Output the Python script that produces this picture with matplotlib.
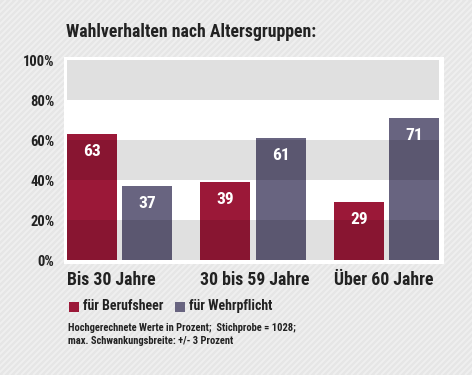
import matplotlib
matplotlib.use('Agg')
import matplotlib.pyplot as plt
from matplotlib.patches import Rectangle

# Daten
gruppen = ['Bis 30 Jahre', '30 bis 59 Jahre', 'Über 60 Jahre']
berufsheer = [63, 39, 29]
wehrpflicht = [37, 61, 71]
yticks = [0, 20, 40, 60, 80, 100]

RED = '#9b1838'
PURPLE = '#686480'
TXT = '#222222'

plt.rcParams['font.family'] = ['Roboto Condensed', 'DejaVu Sans']

W, H = 472, 375
fig = plt.figure(figsize=(W / 100, H / 100), dpi=100)
fig.patch.set_facecolor('#e6e6e6')

# gestreifter Hintergrund
bg = fig.add_axes([0, 0, 1, 1], zorder=-1)
bg.set_xlim(0, W)
bg.set_ylim(0, H)
bg.axis('off')
for c in range(-H, W + 10, 6):
    bg.plot([c, c + H], [0, H], color='#efefef', lw=1.4, solid_capstyle='butt')
# weisses Panel
bg.add_patch(Rectangle((64, H - 264), 380, 207, facecolor='white',
                       edgecolor='none', zorder=5))

ax = fig.add_axes([67 / W, (H - 260) / H, 372 / W, 200 / H])
ax.set_facecolor('white')
ax.set_xlim(-52.5 / 133, 2 + 52.5 / 133)
ax.set_ylim(0, 100)

bw = 50 / 133
off = 27.5 / 133
x = list(range(len(gruppen)))
ax.bar([i - off for i in x], berufsheer, width=bw, color=RED, zorder=2)
ax.bar([i + off for i in x], wehrpflicht, width=bw, color=PURPLE, zorder=2)

# graue Baender (abdunkelnd)
for lo in (0, 40, 80):
    ax.axhspan(lo, lo + 20, color='black', alpha=0.12, lw=0, zorder=3)

for i in x:
    ax.text(i - off, berufsheer[i] - 8.5, str(berufsheer[i]), color='white',
            ha='center', va='center', fontsize=12.5, fontweight='bold', zorder=4)
    ax.text(i + off, wehrpflicht[i] - 8.5, str(wehrpflicht[i]), color='white',
            ha='center', va='center', fontsize=12.5, fontweight='bold', zorder=4)

ax.set_yticks(yticks)
ax.set_yticklabels([f'{t}%' for t in yticks], fontsize=10.5, fontweight='bold', color=TXT)
ax.tick_params(axis='y', length=0, pad=9)
ax.set_xticks([])
for s in ax.spines.values():
    s.set_visible(False)

# Gruppenbeschriftung, linksbuendig an der Gruppe
for i, g in enumerate(gruppen):
    ax.text(i - 52.5 / 133, -10, g, ha='left', va='center', fontsize=12.8,
            fontweight='bold', color=TXT, clip_on=False)

fig.text(66 / W, 1 - 32 / H, 'Wahlverhalten nach Altersgruppen:', ha='left',
         va='center', fontsize=12.8, fontweight='bold', color=TXT)

# Legende
for xs, col, lab in ((69, RED, 'für Berufsheer'), (175, PURPLE, 'für Wehrpflicht')):
    fig.patches.append(Rectangle((xs / W, (H - 312) / H), 10 / W, 10 / H,
                                 transform=fig.transFigure, facecolor=col,
                                 edgecolor='none'))
    fig.text((xs + 14) / W, 1 - 306 / H, lab, ha='left', va='center',
             fontsize=10, fontweight='bold', color=TXT)

fig.text(68 / W, 1 - 328 / H, 'Hochgerechnete Werte in Prozent;  Stichprobe = 1028;',
         ha='left', va='center', fontsize=7.6, fontweight='bold', color=TXT)
fig.text(68 / W, 1 - 341 / H, 'max. Schwankungsbreite: +/- 3 Prozent',
         ha='left', va='center', fontsize=7.6, fontweight='bold', color=TXT)

fig.savefig('out.png', dpi=100, facecolor=fig.get_facecolor())
